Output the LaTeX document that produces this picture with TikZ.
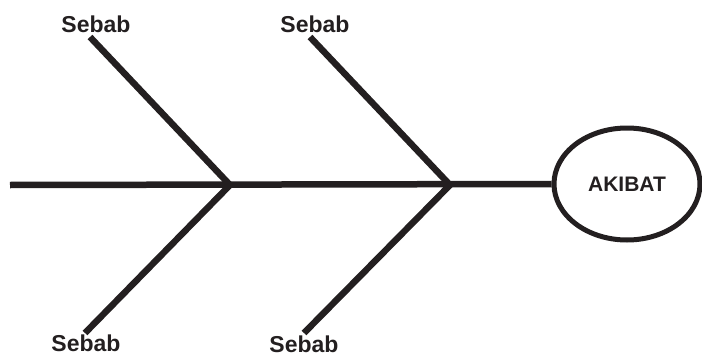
\documentclass[tikz,border=0pt]{standalone}
\usepackage{fontspec}
\setmainfont{Liberation Sans}
\usetikzlibrary{shapes.geometric}
\definecolor{inkdark}{RGB}{35,31,32}
\tikzset{
	bone/.style={draw=inkdark, line width=6.5pt},
	sebablabel/.style={text=inkdark, font=\bfseries\fontsize{23}{27}\selectfont, inner sep=0pt},
}
\begin{document}
\begin{tikzpicture}[x=1pt,y=-1pt]
	\useasboundingbox (0,0) rectangle (702,356) ;
	\node (akibat)[draw=inkdark, line width=5pt, ellipse, minimum width=146pt, minimum height=112pt, text=inkdark, font=\bfseries\fontsize{21}{25}\selectfont] at (627,184) {AKIBAT} ;
		\coordinate (tail) at (10,185) ;
		\coordinate (j1) at (230,185) ;
		\coordinate (j2) at (450,185) ;
		% branch ends
		\coordinate (u1) at (90,37) ;
		\coordinate (d1) at (85,333) ;
		\coordinate (u2) at (310,37) ;
		\coordinate (d2) at (304,333) ;
		\node (s1)[sebablabel] at (96,24) {Sebab} ;
		\node (s2)[sebablabel] at (315,24) {Sebab} ;
		\node (s3)[sebablabel] at (86,343) {Sebab} ;
		\node (s4)[sebablabel] at (304,344) {Sebab} ;
	\draw[bone] (tail) -- (akibat.west) ;
	\draw[bone] (u1) -- (j1) -- (d1) ;
	\draw[bone] (u2) -- (j2) -- (d2) ;
\end{tikzpicture}
\end{document}
